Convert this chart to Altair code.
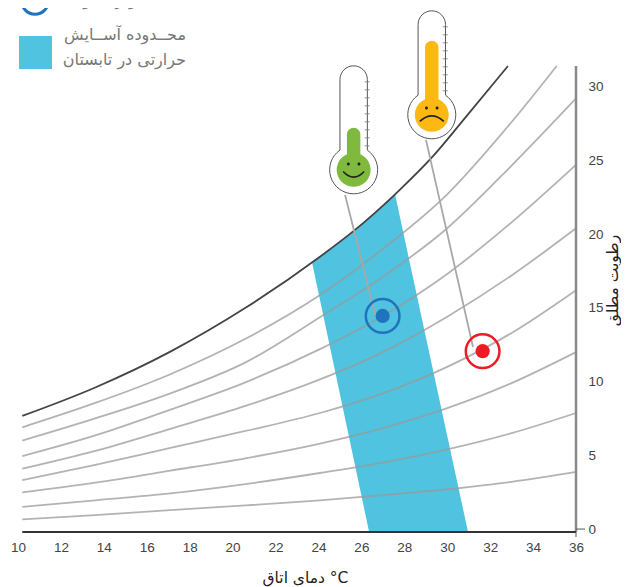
import altair as alt
import pandas as pd

# Curves: room temperature -> absolute humidity
X_COMMON = [10.2, 13.6, 17.1, 20.6, 24.07, 27, 30, 33, 36]
X_SAT = [10.2, 13.6, 17.1, 20.6, 24.07, 25.63, 27.57, 29.35, 30.9, 32.83]
Y_SAT = [7.67, 9.6, 12.03, 15.0, 18.47, 20.2, 22.7, 25.3, 28.0, 31.4]
X_G1 = [10.2, 13.6, 17.1, 20.6, 24.07, 27, 30, 33, 35.1]
Y_G1 = [6.9, 8.55, 10.5, 12.9, 15.87, 19.0, 22.7, 27.6, 31.4]
Y_G2 = [6.0, 7.5, 9.2, 11.3, 14.36, 17.1, 20.4, 24.65, 29.2]
Y_G3 = [4.95, 6.35, 8.1, 9.95, 12.2, 14.45, 17.3, 20.8, 24.7]
Y_G4 = [4.09, 5.3, 6.8, 8.35, 10.15, 12.0, 14.4, 17.2, 20.4]
Y_G5 = [3.32, 4.35, 5.5, 6.65, 7.87, 9.2, 11.0, 13.3, 16.2]
Y_G6 = [2.49, 3.15, 3.96, 4.8, 5.8, 6.85, 8.2, 9.9, 12.0]
Y_G7 = [1.51, 1.95, 2.42, 3.05, 3.8, 4.5, 5.4, 6.5, 7.87]
Y_G8 = [0.66, 0.95, 1.29, 1.6, 1.95, 2.3, 2.7, 3.2, 3.87]

# Summer comfort band: rows of humidity with left and right temperature
BAND_Y = [22.7, 20.2, 18.1, -0.2]
BAND_LEFT = [27.57, 25.63, 23.7, 26.36]
BAND_RIGHT = [27.57, 27.94, 28.25, 30.97]

# Points and leader lines
BLUE = (26.99, 14.45)
RED = (31.65, 12.06)
GREEN_BULB = (25.64, 24.36)
YELLOW_BULB = (29.28, 28.09)
LEADER_GREEN = [(25.24, 22.66), (26.68, 14.3)]
LEADER_RED = [(29.01, 26.39), (31.2, 12.35)]

X_TICKS = list(range(10, 37, 2))
Y_TICKS = [0, 5, 10, 15, 20, 25, 30]
X_TITLE = "دمای اتاق °C"
Y_TITLE = "رطوبت مطلق"
LEGEND_1 = "کولر سلولی"
LEGEND_2A = "محــدوده آســایش"
LEGEND_2B = "حرارتی در تابستان"

FONT_AR = "DejaVu Sans"
FONT_NUM = "Liberation Sans"
BAND_COLOR = "#4fc3df"

xs = alt.Scale(domain=[10, 36], nice=False, zero=False)
ys = alt.Scale(domain=[-0.2, 31.4], nice=False, zero=False)
X = alt.X("x:Q", scale=xs, axis=alt.Axis(
    values=X_TICKS, title=X_TITLE, domain=False, ticks=False, grid=False, labelFont=FONT_NUM,
    labelFontSize=13.5, labelColor="#444444", labelPadding=8, labelFlush=False, labelOverlap=False,
    titleFont=FONT_AR, titleFontSize=15.5, titleFontWeight="normal", titleColor="#222222",
    titleX=287, titleY=45, titleAnchor="middle", titleAlign="center", titleBaseline="middle"))
Y = alt.Y("y:Q", scale=ys, axis=alt.Axis(
    orient="right", values=Y_TICKS, title=Y_TITLE, domain=False, ticks=False, grid=False, labelFont=FONT_NUM,
    labelFontSize=13.5, labelColor="#444444", labelPadding=12, labelFlush=False, labelOverlap=False,
    titleFont=FONT_AR, titleFontSize=15.5, titleFontWeight="normal", titleColor="#222222",
    titleAngle=270, titleX=36, titleY=214, titleAlign="center", titleBaseline="middle"))

rows = []
for name, xv, yv in [("g1", X_G1, Y_G1), ("g2", X_COMMON, Y_G2), ("g3", X_COMMON, Y_G3),
                     ("g4", X_COMMON, Y_G4), ("g5", X_COMMON, Y_G5), ("g6", X_COMMON, Y_G6),
                     ("g7", X_COMMON, Y_G7), ("g8", X_COMMON, Y_G8)]:
    rows += [{"s": name, "x": a, "y": b} for a, b in zip(xv, yv)]
grey_df = pd.DataFrame(rows)
sat_df = pd.DataFrame({"x": X_SAT, "y": Y_SAT})
band_df = pd.DataFrame({"y": BAND_Y, "x": BAND_LEFT, "x2": BAND_RIGHT})

band = alt.Chart(band_df).mark_area(orient="horizontal", color=BAND_COLOR, interpolate="linear").encode(
    y=Y, x=X, x2="x2:Q")
greys = alt.Chart(grey_df).mark_line(color="#9a9a9a", strokeWidth=1.8, opacity=0.75, interpolate="monotone").encode(
    x=X, y=Y, detail="s:N")
sat = alt.Chart(sat_df).mark_line(color="#444444", strokeWidth=1.8, interpolate="monotone").encode(x=X, y=Y)

def seg(p, q, color, width):
    df = pd.DataFrame({"x": [p[0]], "y": [p[1]], "x2": [q[0]], "y2": [q[1]]})
    return alt.Chart(df).mark_rule(color=color, strokeWidth=width).encode(x=X, y=Y, x2="x2:Q", y2="y2:Q")

baseline = seg((10.2, -0.2), (36, -0.2), "#333333", 2)
right_axis = seg((36, -0.2), (36, 31.4), "#8a8a8a", 2.5)
tick_df = pd.DataFrame({"x": [36], "y": [0]})
zero_tick = alt.Chart(tick_df).mark_rule(color="#555555", strokeWidth=1).encode(
    x=X, y=Y, x2=alt.value(567))
end_tick_df = pd.DataFrame({"x": [36], "y": [-0.2]})
end_tick = alt.Chart(end_tick_df).mark_rule(color="#555555", strokeWidth=1).encode(
    x=X, y=Y, y2=alt.value(471))
leader_g = seg(LEADER_GREEN[0], LEADER_GREEN[1], "#a8a8a8", 1.8)
leader_r = seg(LEADER_RED[0], LEADER_RED[1], "#a8a8a8", 1.8)

def glyph(pos, path, fill=None, stroke=None, width=1):
    df = pd.DataFrame({"x": [pos[0]], "y": [pos[1]]})
    kw = {}
    if stroke:
        kw.update(stroke=stroke, strokeWidth=width)
    else:
        kw.update(strokeWidth=0)
    if fill:
        kw.update(fill=fill, fillOpacity=1, filled=True)
    else:
        kw.update(filled=False, fillOpacity=0)
    return alt.Chart(df).mark_point(shape=path, size=4, opacity=1, **kw).encode(x=X, y=Y)

OUTLINE = "M-13.7,-19.7 L-13.7,-90.3 A13.7,13.7 0 0 1 13.7,-90.3 L13.7,-19.7 A24,24 0 1 1 -13.7,-19.7 Z"
def fluid(top):
    return f"M-6.7,-15.6 L-6.7,{top + 6.7} A6.7,6.7 0 0 1 6.7,{top + 6.7} L6.7,-15.6 A17,17 0 1 1 -6.7,-15.6 Z"
TICKS = " ".join(f"M11,{t} L16,{t}" for t in range(-88, -23, 8))
SMILE = "M-10.5,1.7 Q0,13 10.5,1.7"
FROWN = "M-12,6.5 Q0,-4.5 12,6.5"
def eyes(yy):
    return (f"M-6.8,{yy} A1.5,1.5 0 1 1 -3.8,{yy} A1.5,1.5 0 1 1 -6.8,{yy} Z "
            f"M3.8,{yy} A1.5,1.5 0 1 1 6.8,{yy} A1.5,1.5 0 1 1 3.8,{yy} Z")

def thermo(pos, color, top, mouth, eye_y):
    return [
        glyph(pos, OUTLINE, fill="#ffffff", stroke="#555555", width=1),
        glyph(pos, TICKS, stroke="#777777", width=0.8),
        glyph(pos, fluid(top), fill=color),
        glyph(pos, eyes(eye_y), fill="#222222"),
        glyph(pos, mouth, stroke="#222222", width=1.6),
    ]

def dot(pos, color, ring_w):
    df = pd.DataFrame({"x": [pos[0]], "y": [pos[1]]})
    return [
        alt.Chart(df).mark_point(shape="circle", size=1134, filled=False, opacity=1, color=color,
                                 strokeWidth=ring_w).encode(x=X, y=Y),
        alt.Chart(df).mark_point(shape="circle", size=201, filled=True, opacity=1, color=color,
                                 strokeWidth=0).encode(x=X, y=Y),
    ]

one = pd.DataFrame({"k": [0]})
legend = [
    alt.Chart(one).mark_point(shape="circle", size=707, filled=False, opacity=1, color="#1f74bd", strokeWidth=3).encode(
        x=alt.value(17), y=alt.value(-65)),
    alt.Chart(one).mark_point(shape="circle", size=150, filled=True, opacity=1, color="#1f74bd", strokeWidth=0).encode(
        x=alt.value(17), y=alt.value(-65)),
    alt.Chart(one).mark_square(size=1089, color=BAND_COLOR, opacity=1, strokeWidth=0).encode(
        x=alt.value(17.5), y=alt.value(-13.5)),
]
for txt, px, py in [(LEGEND_1, 127, -66), (LEGEND_2A, 168, -31), (LEGEND_2B, 168, -6)]:
    legend.append(alt.Chart(pd.DataFrame({"t": [txt]})).mark_text(
        font=FONT_AR, fontSize=16, color="#777777", align="right", baseline="middle").encode(
        text="t:N", x=alt.value(px), y=alt.value(py)))

layers = [band, greys, sat, right_axis, baseline, zero_tick, end_tick, leader_g, leader_r]
layers += thermo(GREEN_BULB, "#7fba3f", -42, SMILE, -5.7)
layers += thermo(YELLOW_BULB, "#fdb813", -74, FROWN, -6.7)
layers += dot(BLUE, "#1f74bd", 2.5) + dot(RED, "#ed1c24", 2.5)
layers += legend

chart = alt.layer(*layers).properties(
    width=558, height=466,
    padding={"left": 10, "top": 58, "right": 45, "bottom": 55},
    autosize=alt.AutoSizeParams(type="none"),
    background="#ffffff",
).configure_view(stroke=None)

chart.save("out.html", embed_options={"renderer": "svg", "actions": False})
